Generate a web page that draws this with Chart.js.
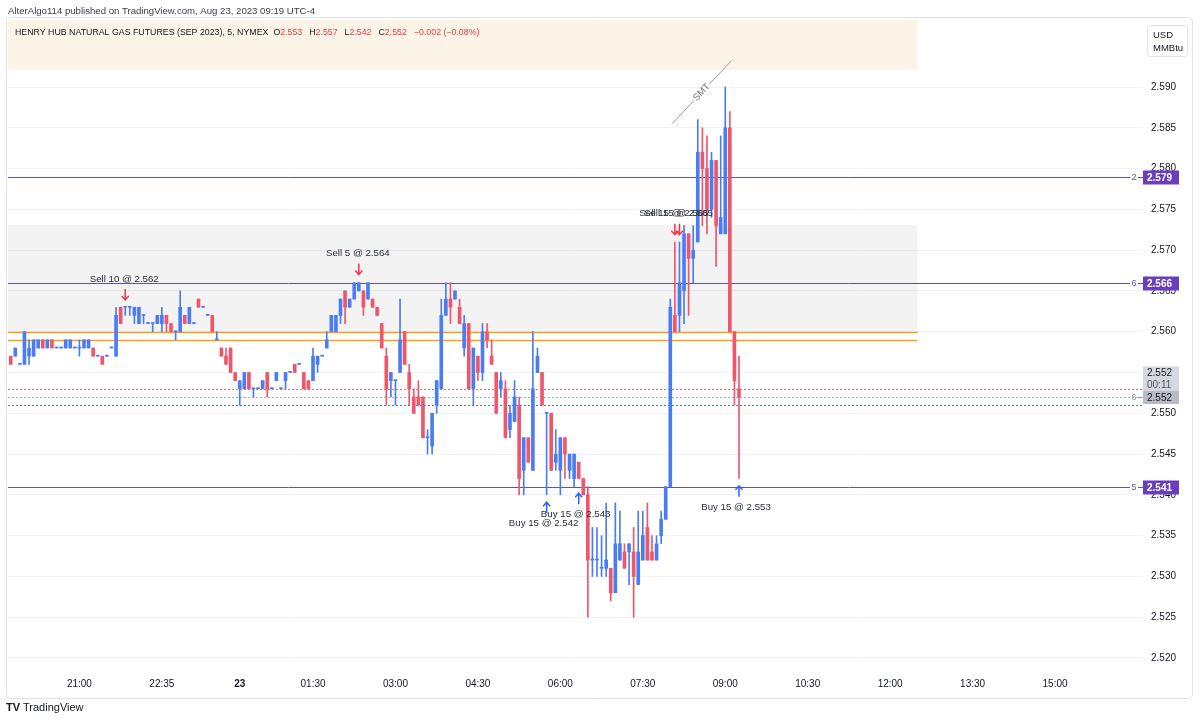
<!DOCTYPE html>
<html>
<head>
<meta charset="utf-8">
<script src="https://cdn.jsdelivr.net/npm/chart.js@4.4.0/dist/chart.umd.min.js"></script>
<style>
  html, body { margin: 0; padding: 0; background: #fff; }
  #wrap { position: relative; width: 1200px; height: 722px; }
</style>
</head>
<body>
<div id="wrap"><canvas id="grafico" width="1200" height="722"></canvas></div>
<script>
// 5 minute bars, NG Sep 2023 (one entry per bar)
const opens = [
  2.557,2.557,2.556,2.556,2.557,2.557,2.558,2.559,2.558,2.559,2.558,2.558,2.558,2.558,2.558,2.558,2.558,2.558,2.558,2.557,
  2.557,2.557,2.558,2.557,2.563,2.563,2.563,2.562,2.561,2.562,2.561,2.561,2.561,2.561,2.562,2.561,2.560,2.560,2.562,2.561,
  2.561,2.564,2.563,2.562,2.562,2.559,2.558,2.557,2.558,2.555,2.553,2.553,2.555,2.553,2.553,2.553,2.555,2.553,2.554,2.553,
  2.554,2.555,2.556,2.556,2.555,2.554,2.554,2.556,2.557,2.558,2.560,2.560,2.562,2.565,2.563,2.564,2.565,2.565,2.564,2.564,
  2.563,2.561,2.557,2.554,2.554,2.555,2.560,2.555,2.552,2.552,2.552,2.547,2.546,2.551,2.553,2.562,2.564,2.564,2.563,2.558,
  2.561,2.553,2.557,2.555,2.560,2.557,2.555,2.553,2.553,2.548,2.549,2.551,2.543,2.547,2.543,2.555,2.555,2.550,2.550,2.544,
  2.543,2.547,2.543,2.542,2.544,2.542,2.540,2.532,2.532,2.531,2.531,2.531,2.528,2.532,2.533,2.533,2.533,2.529,2.532,2.536,
  2.533,2.532,2.535,2.537,2.541,2.562,2.562,2.565,2.572,2.569,2.571,2.582,2.580,2.575,2.581,2.572,2.572,2.585,2.560,2.553
];
const highs = [
  2.557,2.558,2.556,2.560,2.559,2.559,2.559,2.559,2.559,2.559,2.558,2.558,2.559,2.559,2.558,2.559,2.559,2.559,2.558,2.557,
  2.557,2.557,2.558,2.563,2.563,2.563,2.563,2.563,2.563,2.562,2.561,2.561,2.562,2.563,2.562,2.561,2.560,2.565,2.562,2.563,
  2.561,2.564,2.563,2.562,2.562,2.560,2.558,2.558,2.558,2.555,2.554,2.555,2.555,2.553,2.553,2.554,2.555,2.553,2.555,2.553,
  2.555,2.555,2.556,2.556,2.555,2.554,2.558,2.557,2.557,2.560,2.562,2.562,2.564,2.565,2.564,2.566,2.566,2.565,2.566,2.564,
  2.563,2.561,2.558,2.555,2.554,2.564,2.560,2.556,2.553,2.554,2.552,2.548,2.550,2.554,2.564,2.566,2.566,2.565,2.564,2.562,
  2.561,2.558,2.557,2.561,2.561,2.559,2.555,2.555,2.554,2.551,2.554,2.552,2.547,2.547,2.560,2.558,2.555,2.550,2.550,2.548,
  2.547,2.547,2.545,2.545,2.544,2.542,2.541,2.536,2.536,2.535,2.539,2.531,2.539,2.538,2.534,2.534,2.536,2.538,2.538,2.539,
  2.535,2.535,2.538,2.541,2.564,2.571,2.571,2.573,2.572,2.573,2.586,2.585,2.584,2.582,2.581,2.584,2.590,2.587,2.560,2.557
];
const lows = [
  2.556,2.557,2.556,2.556,2.556,2.557,2.558,2.558,2.558,2.558,2.558,2.558,2.558,2.558,2.558,2.557,2.558,2.558,2.557,2.557,
  2.556,2.557,2.558,2.557,2.561,2.562,2.562,2.561,2.561,2.561,2.561,2.560,2.561,2.560,2.560,2.560,2.559,2.560,2.561,2.561,
  2.561,2.563,2.563,2.562,2.560,2.559,2.557,2.556,2.555,2.554,2.551,2.553,2.553,2.552,2.553,2.553,2.552,2.553,2.554,2.553,
  2.553,2.555,2.555,2.556,2.553,2.553,2.554,2.555,2.557,2.558,2.560,2.560,2.561,2.561,2.563,2.564,2.565,2.562,2.564,2.563,
  2.562,2.558,2.551,2.552,2.551,2.555,2.556,2.551,2.550,2.551,2.547,2.545,2.545,2.550,2.553,2.562,2.561,2.564,2.561,2.557,
  2.553,2.551,2.554,2.554,2.558,2.556,2.550,2.552,2.547,2.547,2.549,2.540,2.540,2.544,2.543,2.555,2.551,2.540,2.543,2.543,
  2.540,2.542,2.542,2.541,2.542,2.540,2.525,2.530,2.530,2.530,2.530,2.527,2.528,2.532,2.531,2.529,2.525,2.529,2.532,2.532,
  2.532,2.532,2.534,2.537,2.541,2.560,2.560,2.561,2.562,2.566,2.571,2.573,2.572,2.574,2.568,2.572,2.572,2.560,2.551,2.542
];
const closes = [
  2.556,2.558,2.556,2.560,2.558,2.559,2.559,2.558,2.559,2.558,2.558,2.558,2.559,2.559,2.558,2.558,2.559,2.559,2.557,2.557,
  2.556,2.557,2.558,2.562,2.561,2.563,2.563,2.563,2.563,2.562,2.561,2.561,2.562,2.562,2.561,2.560,2.560,2.563,2.561,2.563,
  2.561,2.563,2.563,2.562,2.560,2.559,2.557,2.556,2.555,2.554,2.554,2.555,2.553,2.553,2.553,2.554,2.553,2.553,2.555,2.553,
  2.555,2.555,2.555,2.556,2.553,2.553,2.557,2.557,2.557,2.559,2.562,2.562,2.564,2.563,2.564,2.566,2.566,2.563,2.566,2.563,
  2.562,2.558,2.553,2.555,2.554,2.559,2.556,2.553,2.550,2.551,2.547,2.547,2.550,2.554,2.562,2.564,2.563,2.565,2.561,2.561,
  2.553,2.558,2.555,2.560,2.559,2.556,2.550,2.554,2.547,2.550,2.552,2.542,2.547,2.544,2.553,2.557,2.551,2.550,2.543,2.545,
  2.547,2.545,2.545,2.545,2.542,2.540,2.532,2.532,2.532,2.531,2.532,2.528,2.534,2.534,2.531,2.534,2.530,2.533,2.535,2.532,
  2.532,2.534,2.537,2.541,2.563,2.560,2.566,2.572,2.569,2.570,2.582,2.580,2.575,2.581,2.573,2.574,2.585,2.560,2.554,2.552
];

// axes
const priceTicks = [2.520, 2.525, 2.530, 2.535, 2.540, 2.545, 2.550, 2.555, 2.560, 2.565, 2.570, 2.575, 2.580, 2.585, 2.590];
const timeTickBars = [15, 33, 50, 66, 84, 102, 120, 138, 156, 174, 192, 210, 228];
const timeTickLabels = ['21:00', '22:35', '23', '01:30', '03:00', '04:30', '06:00', '07:30', '09:00', '10:30', '12:00', '13:30', '15:00'];

// drawings on the chart
const levelPrices = [2.579, 2.566, 2.541];
const levelTags = ['2', '6', '5'];
const orangePrices = [2.560, 2.559];
const zonePrices = [2.5731, 2.560];
const headerBandPrice = 2.5921;
const drawingsEndBar = 198;
const dottedPrices = [2.553, 2.552, 2.551];

const sellBars = [25, 76, 145, 146];
const sellTips = [2.5639, 2.5670, 2.5719, 2.5719];
const sellTexts = ['Sell 10 @ 2.562', 'Sell 5 @ 2.564', 'Sell 15 @ 2.565', 'Sell 15 @ 2.565'];
const buyBars = [117, 124, 159];
const buyTips = [2.5391, 2.5402, 2.5411];
const buyTexts = ['Buy 15 @ 2.542', 'Buy 15 @ 2.543', 'Buy 15 @ 2.553'];

const smtBars = [144.4, 157.3];
const smtPrices = [2.5855, 2.5932];

const AZUL = '#4a7df5';
const VERMELHO = '#f0566a';
const ROXO = '#6450b4';
const FONTE = "'Liberation Sans', Arial, sans-serif";
const TEXTO = '#131722';

Chart.defaults.font.family = FONTE;

const corDaBarra = opens.map((o, i) => closes[i] >= o ? AZUL : VERMELHO);
const corpos = opens.map((o, i) => ({ x: i, y: [o, closes[i]] }));
const pavios = opens.map((o, i) => ({ x: i, y: [lows[i], highs[i]] }));

function linha(ctx, x1, y1, x2, y2, cor, larg, tracejado) {
  ctx.save();
  ctx.strokeStyle = cor;
  ctx.lineWidth = larg || 1;
  if (tracejado) ctx.setLineDash(tracejado);
  ctx.beginPath();
  ctx.moveTo(x1, y1);
  ctx.lineTo(x2, y2);
  ctx.stroke();
  ctx.restore();
}

function seta(ctx, x, yTip, dir, cor) {
  // dir = 1 para baixo (venda), -1 para cima (compra)
  ctx.save();
  ctx.strokeStyle = cor;
  ctx.lineWidth = 1.5;
  ctx.beginPath();
  ctx.moveTo(x, yTip - dir * 11);
  ctx.lineTo(x, yTip);
  ctx.moveTo(x - 3.5, yTip - dir * 4);
  ctx.lineTo(x, yTip);
  ctx.lineTo(x + 3.5, yTip - dir * 4);
  ctx.stroke();
  ctx.restore();
}

function caixaPreco(ctx, x, yc, h, texto, fundo, corTexto, negrito) {
  ctx.save();
  ctx.fillStyle = fundo;
  ctx.fillRect(x, yc - h / 2, 36, h);
  ctx.fillStyle = corTexto;
  ctx.font = (negrito ? 'bold ' : '') + '10px ' + FONTE;
  ctx.textBaseline = 'middle';
  ctx.textAlign = 'left';
  ctx.fillText(texto, x + 4, yc + 0.5);
  ctx.restore();
}

const desenhos = {
  id: 'desenhos',
  beforeDatasetsDraw(chart) {
    const { ctx, chartArea: a, scales: { x, y } } = chart;
    ctx.save();
    ctx.beginPath();
    ctx.rect(a.left, a.top, a.right - a.left, a.bottom - a.top);
    ctx.clip();

    const xFim = x.getPixelForValue(drawingsEndBar);

    // faixa do titulo
    ctx.fillStyle = '#fdf4e8';
    const yFaixa = y.getPixelForValue(headerBandPrice);
    ctx.fillRect(a.left, a.top + 2, xFim - a.left, yFaixa - a.top - 2);

    // zona cinza
    const yz1 = y.getPixelForValue(zonePrices[0]);
    const yz2 = y.getPixelForValue(zonePrices[1]);
    ctx.fillStyle = 'rgba(120,123,134,0.09)';
    ctx.fillRect(a.left, yz1, xFim - a.left, yz2 - yz1);

    // linhas laranja
    orangePrices.forEach(p => {
      const yy = Math.round(y.getPixelForValue(p)) + 0.5;
      linha(ctx, a.left, yy, xFim, yy, '#f7a21b', 1.3);
    });

    // linhas pontilhadas (preco atual)
    const coresPont = ['#f26b78', '#a9acb5', '#3f72f0'];
    dottedPrices.forEach((p, i) => {
      const yy = Math.round(y.getPixelForValue(p)) + 0.5;
      linha(ctx, a.left, yy, a.right, yy, coresPont[i], 1, [2, 2]);
    });

    // niveis roxos
    levelPrices.forEach(p => {
      const yy = Math.round(y.getPixelForValue(p)) + 0.5;
      linha(ctx, a.left, yy, a.right - 13, yy, ROXO, 1);
    });

    // linha SMT
    const sx1 = x.getPixelForValue(smtBars[0]), sy1 = y.getPixelForValue(smtPrices[0]);
    const sx2 = x.getPixelForValue(smtBars[1]), sy2 = y.getPixelForValue(smtPrices[1]);
    const mx = (sx1 + sx2) / 2, my = (sy1 + sy2) / 2;
    const ang = Math.atan2(sy2 - sy1, sx2 - sx1);
    const gx = Math.cos(ang) * 11, gy = Math.sin(ang) * 11;
    linha(ctx, sx1, sy1, mx - gx, my - gy, '#9598a1', 1);
    linha(ctx, mx + gx, my + gy, sx2, sy2, '#9598a1', 1);
    ctx.save();
    ctx.translate(mx, my);
    ctx.rotate(ang);
    ctx.fillStyle = '#787b86';
    ctx.font = '9.5px ' + FONTE;
    ctx.textAlign = 'center';
    ctx.textBaseline = 'middle';
    ctx.fillText('SMT', 0, 0);
    ctx.restore();

    ctx.restore();
  },
  afterDatasetsDraw(chart) {
    const { ctx, scales: { x, y } } = chart;
    ctx.save();
    ctx.font = '9.7px ' + FONTE;
    ctx.textAlign = 'center';
    ctx.textBaseline = 'middle';
    sellBars.forEach((b, i) => {
      const px = x.getPixelForValue(b);
      const py = y.getPixelForValue(sellTips[i]);
      seta(ctx, px, py, 1, '#f23645');
      ctx.fillStyle = '#2a2e39';
      ctx.fillText(sellTexts[i], px - 1, py - 21);
    });
    buyBars.forEach((b, i) => {
      const px = x.getPixelForValue(b);
      const py = y.getPixelForValue(buyTips[i]);
      seta(ctx, px, py, -1, '#2962ff');
      ctx.fillStyle = '#2a2e39';
      ctx.fillText(buyTexts[i], px - 3, py + 21);
    });
    ctx.restore();
  },
  afterDraw(chart) {
    const { ctx, chartArea: a, scales: { y } } = chart;
    const ult = opens.length - 1;
    ctx.save();

    // moldura
    ctx.strokeStyle = '#e0e3eb';
    ctx.lineWidth = 1;
    ctx.beginPath();
    ctx.roundRect(6.5, 17.5, 1186, 681, 4);
    ctx.stroke();

    // texto do topo
    ctx.fillStyle = '#3a3e49';
    ctx.font = '9.6px ' + FONTE;
    ctx.textBaseline = 'middle';
    ctx.textAlign = 'left';
    ctx.fillText('AlterAlgo114 published on TradingView.com, Aug 23, 2023 09:19 UTC-4', 8, 11);

    // legenda OHLC
    let cx = 15;
    const cy = 33;
    ctx.font = '8.8px ' + FONTE;
    ctx.fillStyle = TEXTO;
    const titulo = 'HENRY HUB NATURAL GAS FUTURES (SEP 2023), 5, NYMEX';
    ctx.fillText(titulo, cx, cy);
    cx += ctx.measureText(titulo).width + 5;
    const ohlc = [['O', opens[ult]], ['H', highs[ult]], ['L', lows[ult]], ['C', closes[ult]]];
    ohlc.forEach(([k, v]) => {
      ctx.fillStyle = TEXTO;
      ctx.fillText(k, cx, cy);
      cx += ctx.measureText(k).width;
      ctx.fillStyle = '#f23645';
      const s = v.toFixed(3);
      ctx.fillText(s, cx, cy);
      cx += ctx.measureText(s).width + 7;
    });
    const dif = closes[ult] - closes[ult - 1];
    const pct = dif / closes[ult - 1] * 100;
    ctx.fillStyle = '#f23645';
    ctx.fillText((dif < 0 ? '\u2212' : '+') + Math.abs(dif).toFixed(3) + ' (' + (pct < 0 ? '\u2212' : '+') + Math.abs(pct).toFixed(2) + '%)', cx, cy);

    // caixa de unidade
    ctx.strokeStyle = '#e0e3eb';
    ctx.beginPath();
    ctx.roundRect(1147.5, 25.5, 40, 31, 3);
    ctx.stroke();
    ctx.fillStyle = TEXTO;
    ctx.font = '9.5px ' + FONTE;
    ctx.fillText('USD', 1153, 35);
    ctx.fillText('MMBtu', 1153, 48);

    // etiquetas dos niveis
    levelPrices.forEach((p, i) => {
      const yy = Math.round(y.getPixelForValue(p)) + 0.5;
      ctx.fillStyle = ROXO;
      ctx.font = '9px ' + FONTE;
      ctx.textAlign = 'center';
      ctx.fillText(levelTags[i], a.right - 9, yy);
      ctx.textAlign = 'left';
      linha(ctx, a.right - 5, yy, a.right, yy, ROXO, 1);
      caixaPreco(ctx, a.right, yy, 14, p.toFixed(3), '#6a3fbf', '#ffffff', true);
    });

    // preco atual
    const yAtual = Math.round(y.getPixelForValue(closes[ult])) + 0.5;
    ctx.fillStyle = '#9598a1';
    ctx.font = '9px ' + FONTE;
    ctx.textAlign = 'center';
    ctx.fillText('6', a.right - 9, yAtual);
    ctx.textAlign = 'left';
    linha(ctx, a.right - 5, yAtual, a.right, yAtual, '#9598a1', 1);
    ctx.fillStyle = '#d5d8de';
    ctx.fillRect(a.right, yAtual - 31, 36, 25);
    ctx.fillStyle = TEXTO;
    ctx.font = '10px ' + FONTE;
    ctx.fillText(closes[ult].toFixed(3), a.right + 4, yAtual - 24);
    ctx.fillStyle = '#50535e';
    ctx.fillText('00:11', a.right + 4, yAtual - 12);
    caixaPreco(ctx, a.right, yAtual, 13, closes[ult].toFixed(3), '#b8bbc3', TEXTO, false);

    // rodape
    ctx.fillStyle = TEXTO;
    ctx.font = 'bold 11px ' + FONTE;
    ctx.fillText('TV', 6, 708);
    ctx.font = '11px ' + FONTE;
    ctx.fillText('TradingView', 23, 708);

    ctx.restore();
  }
};

new Chart(document.getElementById('grafico'), {
  type: 'bar',
  data: {
    datasets: [
      { data: pavios, backgroundColor: corDaBarra, barThickness: 1, minBarLength: 1, grouped: false, order: 2 },
      { data: corpos, backgroundColor: corDaBarra, barThickness: 3, minBarLength: 1, grouped: false, order: 1 }
    ]
  },
  options: {
    responsive: false,
    animation: false,
    layout: { padding: { left: 8, top: 18, right: 7, bottom: 24 } },
    plugins: { legend: { display: false }, tooltip: { enabled: false } },
    scales: {
      x: {
        type: 'linear',
        min: -0.59,
        max: 247.2,
        offset: false,
        grid: { display: false, drawTicks: false },
        border: { display: false },
        afterBuildTicks: s => { s.ticks = timeTickBars.map(v => ({ value: v })); },
        afterFit: s => { s.height = 26; },
        ticks: {
          autoSkip: false,
          maxRotation: 0,
          padding: 6,
          color: TEXTO,
          font: ctx => ({ size: 10, weight: timeTickLabels[ctx.index] === '23' ? 'bold' : 'normal' }),
          callback: (v, i) => timeTickLabels[i]
        }
      },
      y: {
        position: 'right',
        min: 2.51828,
        max: 2.59846,
        grid: { color: '#f0f3fa', drawTicks: false },
        border: { display: false },
        afterBuildTicks: s => { s.ticks = priceTicks.map(v => ({ value: v })); },
        afterFit: s => { s.width = 50; },
        ticks: {
          padding: 8,
          color: TEXTO,
          font: { size: 10 },
          callback: v => v.toFixed(3)
        }
      }
    }
  },
  plugins: [desenhos]
});
</script>
</body>
</html>
